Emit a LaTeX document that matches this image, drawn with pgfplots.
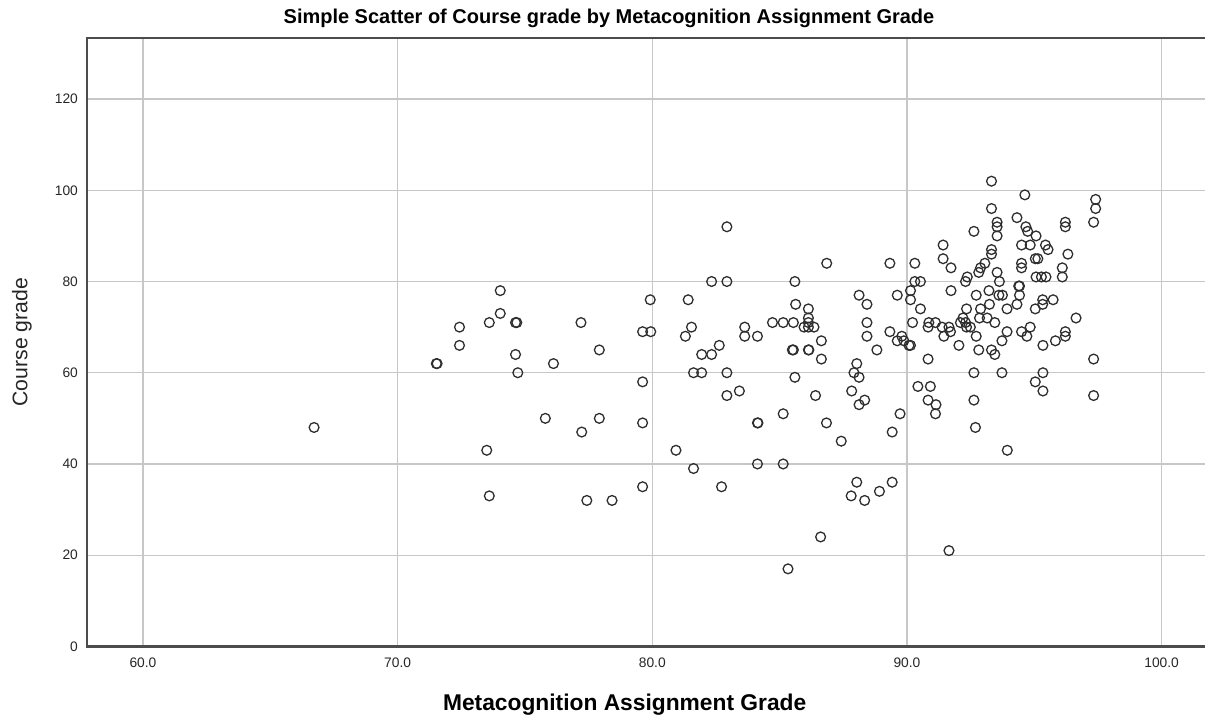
\documentclass[border=0pt]{standalone}
\usepackage{fontspec}
\setmainfont{Liberation Sans}
\usepackage{pgfplots}
\pgfplotsset{compat=1.18}
\begin{document}
\begin{tikzpicture}
\begin{axis}[
  scale only axis,
  width=559.5pt, height=304.5pt,
  xmin=57.8, xmax=101.7, ymin=0, ymax=133.4,
  xtick={60,70,80,90,100}, ytick={0,20,40,60,80,100,120},
  /pgf/number format/assume math mode=true,
  xticklabel style={/pgf/number format/.cd,fixed,fixed zerofill,precision=1},
  yticklabel style={/pgf/number format/.cd,fixed,precision=0},
  ticklabel style={font=\fontsize{6.9pt}{7.5pt}\selectfont, text=black!85},
  major tick length=0pt,
  grid=major,
  major grid style={draw=black!22, line width=0.6pt},
  axis line style={draw=none},
  clip=false,
  xticklabel shift=2pt,
  yticklabel shift=1pt,
]
\draw[black!70, line width=1.1pt] (rel axis cs:1,1) -- (rel axis cs:0,1) -- (rel axis cs:0,0) -- (rel axis cs:1,0);
\node[font=\fontsize{10pt}{11pt}\selectfont\bfseries, anchor=center] at ([yshift=10pt]rel axis cs:0.467,1) {Simple Scatter of Course grade by Metacognition Assignment Grade};
\node[font=\fontsize{11.4pt}{12pt}\selectfont\bfseries, anchor=center] at ([yshift=-29pt]rel axis cs:0.481,0) {Metacognition Assignment Grade};
\node[font=\fontsize{10.6pt}{11pt}\selectfont, text=black!85, rotate=90, anchor=center] at ([xshift=-32.5pt]rel axis cs:0,0.5) {Course grade};
\addplot[only marks, mark=o, mark size=2.45pt, mark options={draw=black!82, line width=0.65pt}] table {
x y
66.72 48
71.52 62
71.55 62
72.43 70
72.43 66
73.5 43
73.6 33
73.6 71
74.03 73
74.03 78
74.63 71
74.68 71
74.63 64
74.72 60
75.8 50
76.12 62
77.2 71
77.23 47
77.43 32
77.92 65
77.92 50
78.42 32
79.62 69
79.94 69
79.62 58
79.62 49
79.62 35
79.92 76
80.93 43
81.3 68
81.41 76
81.54 70
81.62 60
81.94 60
81.62 39
81.94 64
82.33 64
82.63 66
82.33 80
82.93 80
82.93 92
82.93 60
82.93 55
82.72 35
83.42 56
83.63 70
83.63 68
84.13 68
84.13 49
84.15 49
84.13 40
84.72 71
85.14 71
85.54 71
85.14 51
85.14 40
85.33 17
85.5 65
85.54 65
85.6 80
85.63 75
85.6 59
85.96 70
86.13 70
86.35 70
86.13 71
86.13 74
86.13 72
86.13 65
86.15 65
86.41 55
86.64 67
86.64 63
86.61 24
86.85 84
86.84 49
87.42 45
87.83 56
87.81 33
87.92 60
88.03 62
88.03 36
88.12 77
88.12 59
88.12 53
88.34 54
88.34 32
88.43 75
88.43 71
88.43 68
88.82 65
88.92 34
89.33 84
89.33 69
89.42 47
89.42 36
89.62 77
89.62 67
89.73 51
89.8 68
89.88 67
90.08 66
90.14 66
90.14 78
90.14 76
90.22 71
90.31 84
90.31 80
90.53 80
90.53 74
90.43 57
90.83 70
90.83 63
90.83 54
90.86 71
90.92 57
91.12 71
91.14 53
91.12 51
91.38 70
91.42 88
91.42 85
91.45 68
91.65 70
91.71 69
91.65 21
91.73 83
91.73 78
92.04 66
92.1 71
92.3 71
92.2 72
92.34 70
92.49 70
92.3 80
92.37 81
92.34 74
92.63 91
92.72 77
92.72 68
92.63 60
92.63 54
92.69 48
92.82 82
92.89 83
93.06 84
92.89 74
92.85 72
93.15 72
93.45 71
93.22 78
93.24 75
92.82 65
93.32 65
93.45 64
93.32 102
93.32 96
93.32 87
93.32 86
93.54 93
93.54 92
93.54 90
93.54 82
93.63 80
93.61 77
93.75 77
93.73 67
93.73 60
93.93 69
93.93 74
93.94 43
94.32 94
94.32 75
94.39 79
94.42 79
94.42 77
94.5 88
94.5 84
94.5 83
94.5 69
94.63 99
94.67 92
94.74 91
94.84 88
94.84 70
94.71 68
95.04 85
95.14 85
95.07 90
95.04 74
95.04 58
95.07 81
95.28 81
95.46 81
95.33 76
95.33 75
95.34 66
95.34 60
95.34 56
95.44 88
95.54 87
95.74 76
95.83 67
96.1 83
96.1 81
96.22 93
96.22 92
96.22 69
96.22 68
96.32 86
96.64 72
97.33 93
97.33 63
97.33 55
97.41 98
97.41 96
};
\path ([xshift=-43.5pt,yshift=-33.5pt]rel axis cs:0,0) rectangle ([yshift=19pt]rel axis cs:1,1);
\end{axis}
\end{tikzpicture}
\end{document}
